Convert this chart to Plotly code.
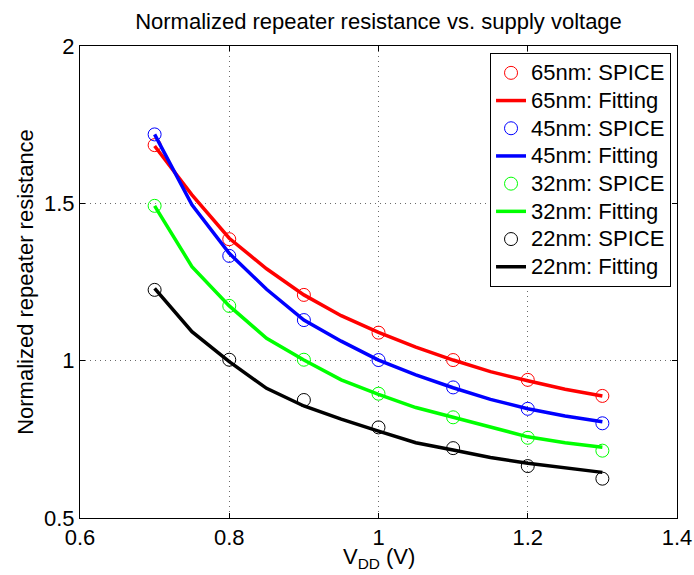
import plotly.graph_objects as go

vdd_spice = [0.7, 0.8, 0.9, 1.0, 1.1, 1.2, 1.3]
vdd_fit = [0.70, 0.75, 0.80, 0.85, 0.90, 0.95, 1.00, 1.05, 1.10, 1.15, 1.20, 1.25, 1.30]

spice_65 = [1.685, 1.386, 1.209, 1.089, 1.002, 0.939, 0.888]
spice_45 = [1.719, 1.333, 1.129, 1.002, 0.915, 0.847, 0.801]
spice_32 = [1.492, 1.174, 1.003, 0.895, 0.820, 0.755, 0.714]
spice_22 = [1.225, 1.003, 0.875, 0.788, 0.722, 0.665, 0.625]

fit_65 = [1.682, 1.527, 1.389, 1.292, 1.209, 1.143, 1.090, 1.043, 1.002, 0.965, 0.936, 0.909, 0.888]
fit_45 = [1.719, 1.495, 1.341, 1.227, 1.129, 1.062, 1.002, 0.955, 0.914, 0.877, 0.847, 0.824, 0.806]
fit_32 = [1.492, 1.299, 1.174, 1.071, 1.002, 0.939, 0.893, 0.851, 0.820, 0.788, 0.758, 0.739, 0.725]
fit_22 = [1.230, 1.092, 0.997, 0.912, 0.856, 0.814, 0.776, 0.739, 0.716, 0.692, 0.674, 0.660, 0.645]

nodes = ["65nm", "45nm", "32nm", "22nm"]
colors = ["#FF0000", "#0000FF", "#00FF00", "#000000"]
spice = [spice_65, spice_45, spice_32, spice_22]
fits = [fit_65, fit_45, fit_32, fit_22]

x_ticks = [0.6, 0.8, 1.0, 1.2, 1.4]
x_tick_text = ["0.6", "0.8", "1", "1.2", "1.4"]
y_ticks = [0.5, 1.0, 1.5, 2.0]
y_tick_text = ["0.5", "1", "1.5", "2"]

FONT = "Liberation Sans, Arial, Helvetica, sans-serif"
FS = 22


def big(t):
    return f"<span style='font-size:{FS}px'>{t}</span>"


fig = go.Figure()
for n, c, s, f in zip(nodes, colors, spice, fits):
    fig.add_trace(go.Scatter(
        x=vdd_spice, y=s, mode="markers", name=big(f"{n}: SPICE"),
        marker=dict(symbol="circle-open", size=13, color=c, line=dict(width=1, color=c)),
    ))
    fig.add_trace(go.Scatter(
        x=vdd_fit, y=f, mode="lines", name=big(f"{n}: Fitting"),
        line=dict(color=c, width=3.5),
    ))

axis_common = dict(
    showline=True, linecolor="black", linewidth=1, mirror="ticks",
    ticks="inside", ticklen=5, tickcolor="black", automargin=False,
    showgrid=True, gridcolor="#6a6a6a", griddash="1px,4px", gridwidth=1,
    zeroline=False, tickfont=dict(family=FONT, size=FS, color="black"),
)

fig.update_layout(
    width=694, height=575,
    margin=dict(l=80, r=17, t=46, b=57, autoexpand=False),
    paper_bgcolor="white", plot_bgcolor="white",
    font=dict(family=FONT, color="black"),
    title=dict(text="Normalized repeater resistance vs. supply voltage",
               x=(80 + 677) / 2 / 694, xanchor="center", y=1 - 21 / 575, yanchor="middle",
               font=dict(family=FONT, size=FS, color="black")),
    xaxis=dict(range=[0.6, 1.4], tickvals=x_ticks, ticktext=x_tick_text, **axis_common),
    yaxis=dict(range=[0.5, 2.0], tickvals=y_ticks, ticktext=y_tick_text,
               title=dict(text="Normalized repeater resistance", font=dict(family=FONT, size=FS), standoff=4),
               **axis_common),
    legend=dict(x=0.99, y=1 - (53 - 46) / 472, xanchor="right", yanchor="top",
                bgcolor="white", bordercolor="black", borderwidth=1,
                font=dict(family=FONT, size=19, color="black"),
                tracegroupgap=0, itemwidth=30),
    showlegend=True,
    annotations=[dict(text="V<sub>DD</sub> (V)", xref="paper", yref="paper",
                      x=0.5, y=-(542 - 518) / 472, xanchor="center", yanchor="top",
                      showarrow=False, font=dict(family=FONT, size=FS, color="black"))],
)

fig.write_html("out.html")
